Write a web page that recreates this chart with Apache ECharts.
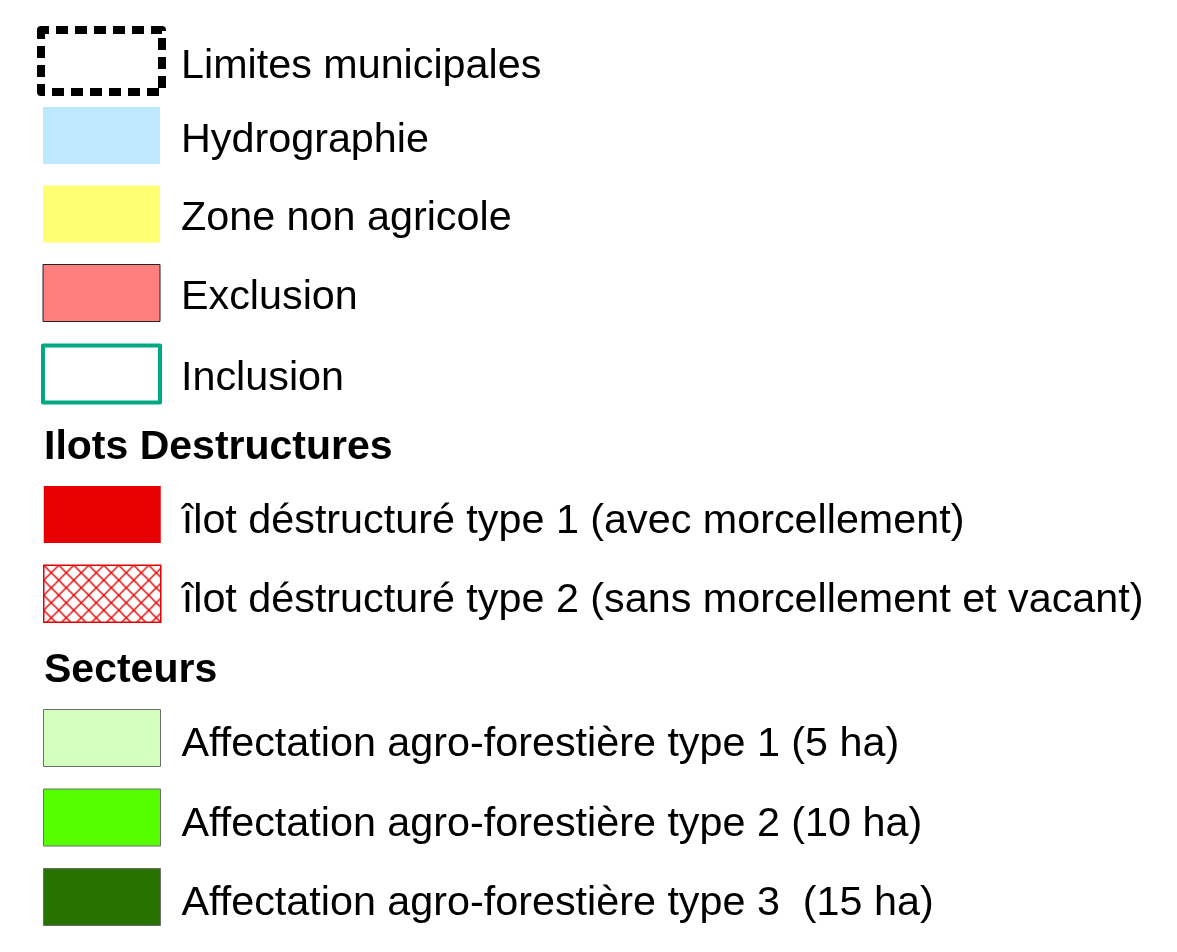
<!DOCTYPE html>
<html>
<head>
<meta charset="utf-8">
<script src="https://cdn.jsdelivr.net/npm/echarts@6/dist/echarts.min.js"></script>
<style>
  html, body { margin: 0; padding: 0; background: #fff; }
  #chart { width: 1177px; height: 952px; }
</style>
</head>
<body>
<div id="chart"></div>
<script>
// legend entries, grouped like on the map
const limitLabels = ['Limites municipales'];
const baseLabels = ['Hydrographie', 'Zone non agricole', 'Exclusion', 'Inclusion'];
const ilotLabels = [
  'îlot déstructuré type 1 (avec morcellement)',
  'îlot déstructuré type 2 (sans morcellement et vacant)'
];
const secteurLabels = [
  'Affectation agro-forestière type 1 (5 ha)',
  'Affectation agro-forestière type 2 (10 ha)',
  'Affectation agro-forestière type 3  (15 ha)'
];
const headings = ['Ilots Destructures', 'Secteurs'];

// red cross hatch used for îlot type 2
function makeHatch() {
  const c = document.createElement('canvas');
  c.width = 15;
  c.height = 15;
  const ctx = c.getContext('2d');
  ctx.fillStyle = '#fff';
  ctx.fillRect(0, 0, 15, 15);
  ctx.strokeStyle = '#e60000';
  ctx.lineWidth = 1.4;
  ctx.beginPath();
  ctx.moveTo(0, 0); ctx.lineTo(15, 15);
  ctx.moveTo(15, 0); ctx.lineTo(0, 15);
  ctx.stroke();
  return c;
}

const swatchStyles = {
  'Limites municipales': { color: '#fff', borderColor: '#000', borderWidth: 8, borderType: [12, 7], borderDashOffset: 4, borderJoin: 'round' },
  'Hydrographie': { color: '#bee8ff', borderWidth: 0 },
  'Zone non agricole': { color: '#ffff73', borderWidth: 0 },
  'Exclusion': { color: '#ff7f7f', borderColor: '#222', borderWidth: 1 },
  'Inclusion': { color: '#fff', borderColor: '#00a884', borderWidth: 4, borderJoin: 'round' },
  [ilotLabels[0]]: { color: '#e60000', borderWidth: 0 },
  [ilotLabels[1]]: { color: { image: makeHatch(), repeat: 'repeat' }, borderColor: '#e60000', borderWidth: 1.5 },
  [secteurLabels[0]]: { color: '#d3ffbe', borderColor: '#6e6e6e', borderWidth: 1 },
  [secteurLabels[1]]: { color: '#55ff00', borderColor: '#6e6e6e', borderWidth: 1 },
  [secteurLabels[2]]: { color: '#267300', borderColor: '#6e6e6e', borderWidth: 1 }
};

const allNames = [].concat(limitLabels, baseLabels, ilotLabels, secteurLabels);

// the plain text padding only moves the label sideways, so the drop is done in a rich token
function legendText(padLeft, drop) {
  return {
    fontFamily: 'Liberation Sans',
    fontSize: 41.3,
    color: '#000',
    padding: [0, 0, 0, padLeft],
    rich: {
      t: {
        fontFamily: 'Liberation Sans',
        fontSize: 41.3,
        color: '#000',
        padding: [drop, 0, 0, 0]
      }
    }
  };
}

function makeLegend(names, top, extra) {
  return Object.assign({
    orient: 'vertical',
    left: 43,
    top: top,
    padding: 0,
    icon: 'rect',
    itemWidth: 117,
    itemHeight: 57,
    itemGap: 21.5,
    selectedMode: false,
    formatter: '{t|{name}}',
    textStyle: legendText(16, 14),
    data: names.map(n => ({ name: n, itemStyle: swatchStyles[n] }))
  }, extra || {});
}

const chart = echarts.init(document.getElementById('chart'));
chart.setOption({
  backgroundColor: '#fff',
  animation: false,
  title: [
    { text: headings[0], left: 39, top: 422 },
    { text: headings[1], left: 39, top: 645 }
  ].map(t => Object.assign(t, {
    textStyle: { fontFamily: 'Liberation Sans', fontSize: 41, fontWeight: 'bold', color: '#000' }
  })),
  legend: [
    makeLegend(limitLabels, 26, { left: 37, itemWidth: 121, itemHeight: 62, textStyle: legendText(14, 11) }),
    makeLegend(baseLabels, 107, { left: 41, textStyle: legendText(16, 10) }),
    makeLegend(ilotLabels, 486),
    makeLegend(secteurLabels, 709)
  ],
  grid: { left: 0, top: 0, width: 1, height: 1, show: false },
  xAxis: { type: 'category', show: false, data: [] },
  yAxis: { type: 'value', show: false },
  series: allNames.map(n => ({
    type: 'bar',
    name: n,
    data: [],
    itemStyle: swatchStyles[n]
  }))
});
</script>
</body>
</html>
